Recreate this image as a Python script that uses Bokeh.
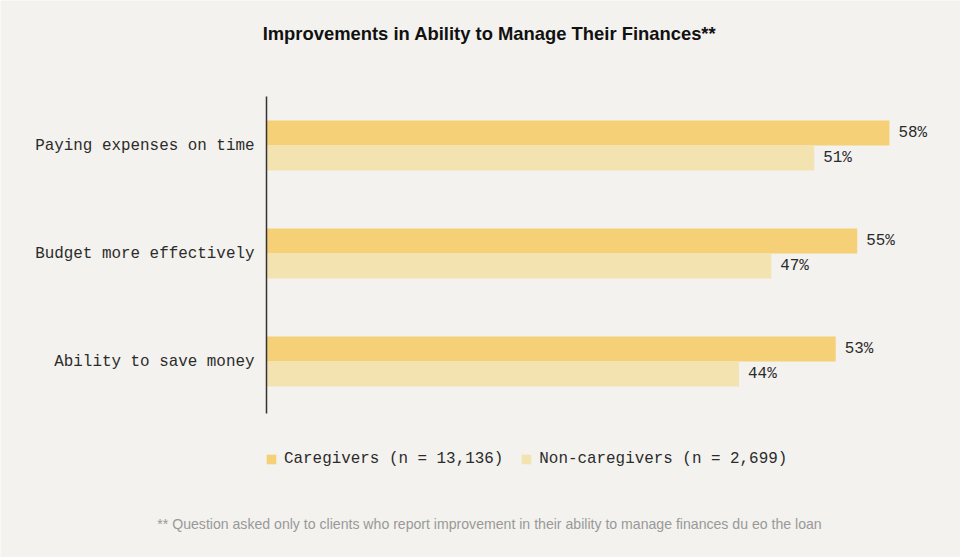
from bokeh.plotting import figure
from bokeh.models import ColumnDataSource, Range1d, Label, Legend, LegendItem
from bokeh.core.properties import value
from bokeh.embed import file_html
from bokeh.resources import INLINE

# Survey results (percent of respondents reporting improvement)
categories = ["Paying expenses on time", "Budget more effectively", "Ability to save money"]
caregivers = [58, 55, 53]
non_caregivers = [51, 47, 44]
series_names = ["Caregivers (n = 13,136)", "Non-caregivers (n = 2,699)"]

W, H = 960, 557
BG = "#f3f2ee"
C1 = "#f5d077"
C2 = "#f3e3b1"
TXT = "#2b2b2b"
MONO = "Liberation Mono"
FS = "15.9px"

# canvas geometry: value axis origin and scale, category pitch
X0_PX, PX_PER_PCT = 266, 10.74
Y0_PX, PX_PER_CAT = 145, 108
AXIS_TOP_PX, AXIS_BOT_PX = 96, 413

pos = list(range(len(categories)))
bar_h = 25 / PX_PER_CAT
off = bar_h / 2

src1 = ColumnDataSource(dict(y=[p - off for p in pos], v=caregivers,
                             lab=[f"{v}%" for v in caregivers]))
src2 = ColumnDataSource(dict(y=[p + off for p in pos], v=non_caregivers,
                             lab=[f"{v}%" for v in non_caregivers]))
src_cat = ColumnDataSource(dict(y=pos, x=[0] * len(pos), name=categories))

p = figure(width=W, height=H, output_backend="svg", toolbar_location=None,
           x_range=Range1d(-X0_PX / PX_PER_PCT, (W - X0_PX) / PX_PER_PCT),
           y_range=Range1d((H - Y0_PX) / PX_PER_CAT, -Y0_PX / PX_PER_CAT),
           x_axis_location=None, y_axis_location=None, min_border=0)
p.title.visible = False
p.background_fill_color = BG
p.border_fill_color = BG
p.outline_line_color = None
p.xgrid.visible = False
p.ygrid.visible = False

r1 = p.hbar(y="y", right="v", left=0, height=bar_h, source=src1,
            fill_color=C1, line_color=None)
r2 = p.hbar(y="y", right="v", left=0, height=bar_h, source=src2,
            fill_color=C2, line_color=None)

# value labels at the end of each bar
for s in (src1, src2):
    p.text(x="v", y="y", text="lab", source=s, x_offset=9,
           text_baseline="middle", text_align="left",
           text_font=value(MONO), text_font_size=FS, text_color=TXT)

# category axis: baseline plus labels
p.segment(x0=0, x1=0,
          y0=(AXIS_TOP_PX - Y0_PX) / PX_PER_CAT, y1=(AXIS_BOT_PX - Y0_PX) / PX_PER_CAT,
          line_color="#333333", line_width=1.5)
p.text(x="x", y="y", text="name", source=src_cat, x_offset=-12,
       text_baseline="middle", text_align="right",
       text_font=value(MONO), text_font_size=FS, text_color=TXT)

legend = Legend(items=[LegendItem(label=series_names[0], renderers=[r1]),
                       LegendItem(label=series_names[1], renderers=[r2])],
                orientation="horizontal", location=(X0_PX - 1, 89),
                glyph_width=12, glyph_height=12, label_standoff=7, spacing=17,
                padding=0, margin=0, border_line_color=None,
                background_fill_alpha=0,
                label_text_font=MONO, label_text_font_size=FS,
                label_text_color=TXT)
p.add_layout(legend, "center")

title = Label(x=489, y=H - 33, x_units="screen", y_units="screen",
              text="Improvements in Ability to Manage Their Finances**",
              text_align="center", text_baseline="middle",
              text_font="Liberation Sans", text_font_style="bold",
              text_font_size="18.4px", text_color="#111111")
p.add_layout(title)

note = Label(x=489, y=H - 523, x_units="screen", y_units="screen",
             text="** Question asked only to clients who report improvement in their ability to manage finances du eo the loan",
             text_align="center", text_baseline="middle",
             text_font="Liberation Sans", text_font_size="14.1px",
             text_color="#999999")
p.add_layout(note)

open("out.html", "w").write(file_html(p, INLINE))
